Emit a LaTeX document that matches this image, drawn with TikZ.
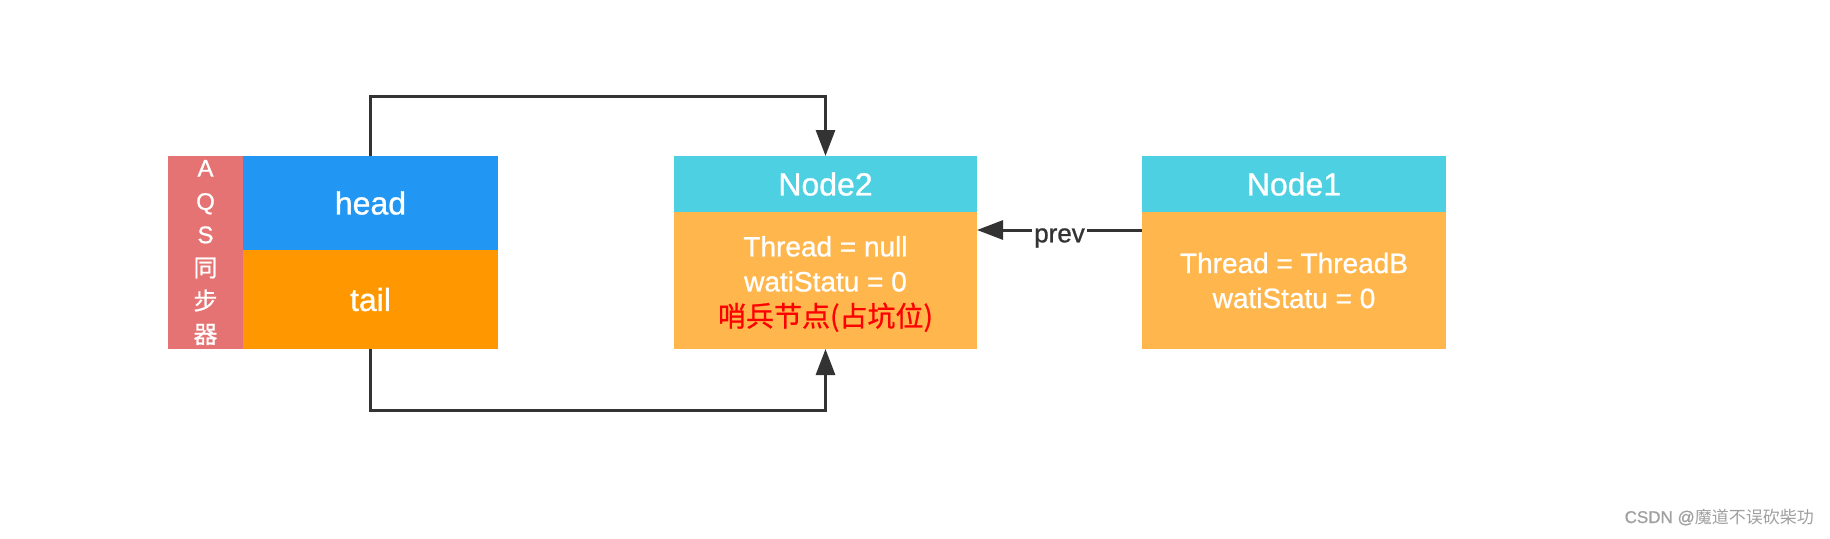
\documentclass[tikz,border=0pt]{standalone}
\usepackage{fontspec}
\setmainfont{Liberation Sans}[FakeBold=0.9]
\newfontfamily\cjk{Noto Sans CJK SC}
\newfontfamily\cjkm{Noto Sans CJK SC}[FakeBold=0.8]
\usetikzlibrary{arrows.meta}
\definecolor{aqsred}{HTML}{E57373}
\definecolor{headblue}{HTML}{2196F3}
\definecolor{tailorange}{HTML}{FF9800}
\definecolor{hdrcyan}{HTML}{4DD0E1}
\definecolor{bodyorange}{HTML}{FFB74D}
\definecolor{linegray}{HTML}{333333}
\definecolor{wmgray}{HTML}{A0A0A0}
\tikzset{
  box/.style={rectangle, inner sep=0pt, outer sep=0pt, text=white, align=center},
  conn/.style={draw=linegray, line width=3pt, -{Triangle[length=26pt,width=19pt]}},
  bigtxt/.style={font=\fontsize{32}{36}\selectfont},
  bodytxt/.style={font=\fontsize{28}{35}\selectfont},
}
\begin{document}
\begin{tikzpicture}[x=1pt,y=-1pt]
\useasboundingbox (0,0) rectangle (1830,538);
% AQS
\node[box, fill=aqsred, minimum width=75pt, minimum height=193pt,
  font=\fontsize{24}{33.3}\selectfont] (aqs) at (205.5,252.5)
  {A\\Q\\S\\{\cjkm 同}\\{\cjkm 步}\\{\cjkm 器}};
\node[box, fill=headblue, bigtxt, minimum width=255pt, minimum height=94pt] (head) at (370.5,203) {head};
\node[box, fill=tailorange, bigtxt, minimum width=255pt, minimum height=99pt] (tail) at (370.5,299.5) {tail};
% Node2
\node[box, fill=hdrcyan, bigtxt, minimum width=303pt, minimum height=56pt] (n2h) at (825.5,184) {Node2};
\node[box, fill=bodyorange, minimum width=303pt, minimum height=137pt] (n2b) at (825.5,280.5) {};
\node[box, bodytxt] (n2t) at ([yshift=-3.5pt]n2b.center)
  {Thread = null\\watiStatu = 0\\{\cjkm\color{red}哨兵节点(占坑位)}};
% Node1
\node[box, fill=hdrcyan, bigtxt, minimum width=304pt, minimum height=56pt] (n1h) at (1294,184) {Node1};
\node[box, fill=bodyorange, bodytxt, minimum width=304pt, minimum height=137pt] (n1b) at (1294,280.5)
  {Thread = ThreadB\\watiStatu = 0};
% connectors
\draw[conn] (head.north) -- ++(0,-60) -| (n2h.north);
\draw[conn] (tail.south) -- ++(0,61) -| (n2b.south);
\draw[conn] ([yshift=-18pt]n1b.north west) -- node[fill=white, inner sep=2pt, yshift=-8pt, text=linegray, font=\fontsize{26}{30}\selectfont]{prev} ([yshift=-18pt]n2b.north east);
% watermark
\node[anchor=east, text=wmgray, inner sep=0pt, font=\fontsize{17}{20}\selectfont] (wm) at (1814,517) {CSDN @{\cjk 魔道不误砍柴功}};
\end{tikzpicture}
\end{document}
